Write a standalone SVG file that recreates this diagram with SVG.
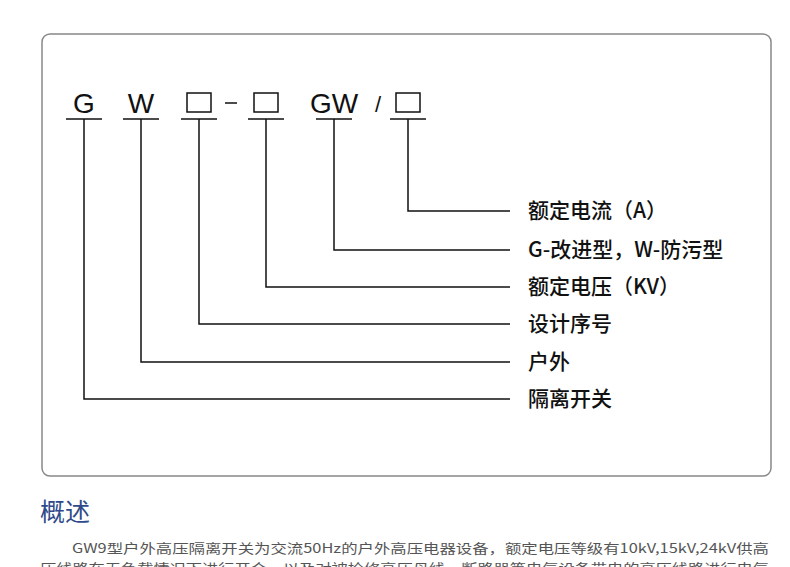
<svg xmlns="http://www.w3.org/2000/svg" width="790" height="567" viewBox="0 0 790 567">
<style>
.l{stroke:#111;stroke-width:1.5;fill:none}
.c{font-family:"Liberation Sans","Noto Sans CJK SC",sans-serif;font-size:28px;fill:#111}
.t{font-family:"Noto Sans CJK SC",sans-serif;font-size:21px;font-weight:500;fill:#111}
.b{fill:none;stroke:#111;stroke-width:1.5}
.p{font-family:"Noto Sans CJK SC",sans-serif;font-size:13px;fill:#555}
</style>
<rect width="790" height="567" fill="#fff"/>
<rect x="42" y="34" width="729" height="442" rx="8" fill="none" stroke="#888" stroke-width="1.5"/>
<g id="code">
<text class="c" x="84" y="113" text-anchor="middle">G</text>
<text class="c" x="141" y="113" text-anchor="middle">W</text>
<rect class="b" x="187" y="93" width="24" height="19"/>
<line class="l" x1="225" y1="103" x2="237" y2="103"/>
<rect class="b" x="254" y="93" width="24" height="19"/>
<text class="c" x="334" y="113" text-anchor="middle">GW</text>
<text class="c" x="378" y="112" text-anchor="middle" style="font-size:22px">/</text>
<rect class="b" x="396" y="93" width="24" height="19"/>
</g>
<g id="connectors" class="l">
<path d="M66 119H102M84 119V399H510"/>
<path d="M123 119H159M141 119V362H510"/>
<path d="M181 119H217M199 119V324H510"/>
<path d="M248 119H284M266 119V287H510"/>
<path d="M316 119H352M334 119V250H510"/>
<path d="M390 119H426M408 119V211H510"/>
</g>
<g id="labels">
<text class="t" x="528" y="218">额定电流（A）</text>
<text class="t" x="528" y="257">G-改进型，W-防污型</text>
<text class="t" x="528" y="294">额定电压（KV）</text>
<text class="t" x="528" y="331">设计序号</text>
<text class="t" x="528" y="369">户外</text>
<text class="t" x="528" y="406">隔离开关</text>
</g>
<text x="40" y="521" style="font-family:'Noto Sans CJK SC',sans-serif;font-size:25px;fill:#2f4a8a">概述</text>
<text class="p" x="72" y="553" textLength="697" lengthAdjust="spacingAndGlyphs">GW9型户外高压隔离开关为交流50Hz的户外高压电器设备，额定电压等级有10kV,15kV,24kV供高</text>
<text class="p" x="40" y="573" textLength="729" lengthAdjust="spacingAndGlyphs">压线路在无负载情况下进行开合，以及对被检修高压母线、断路器等电气设备带电的高压线路进行电气</text>
</svg>
